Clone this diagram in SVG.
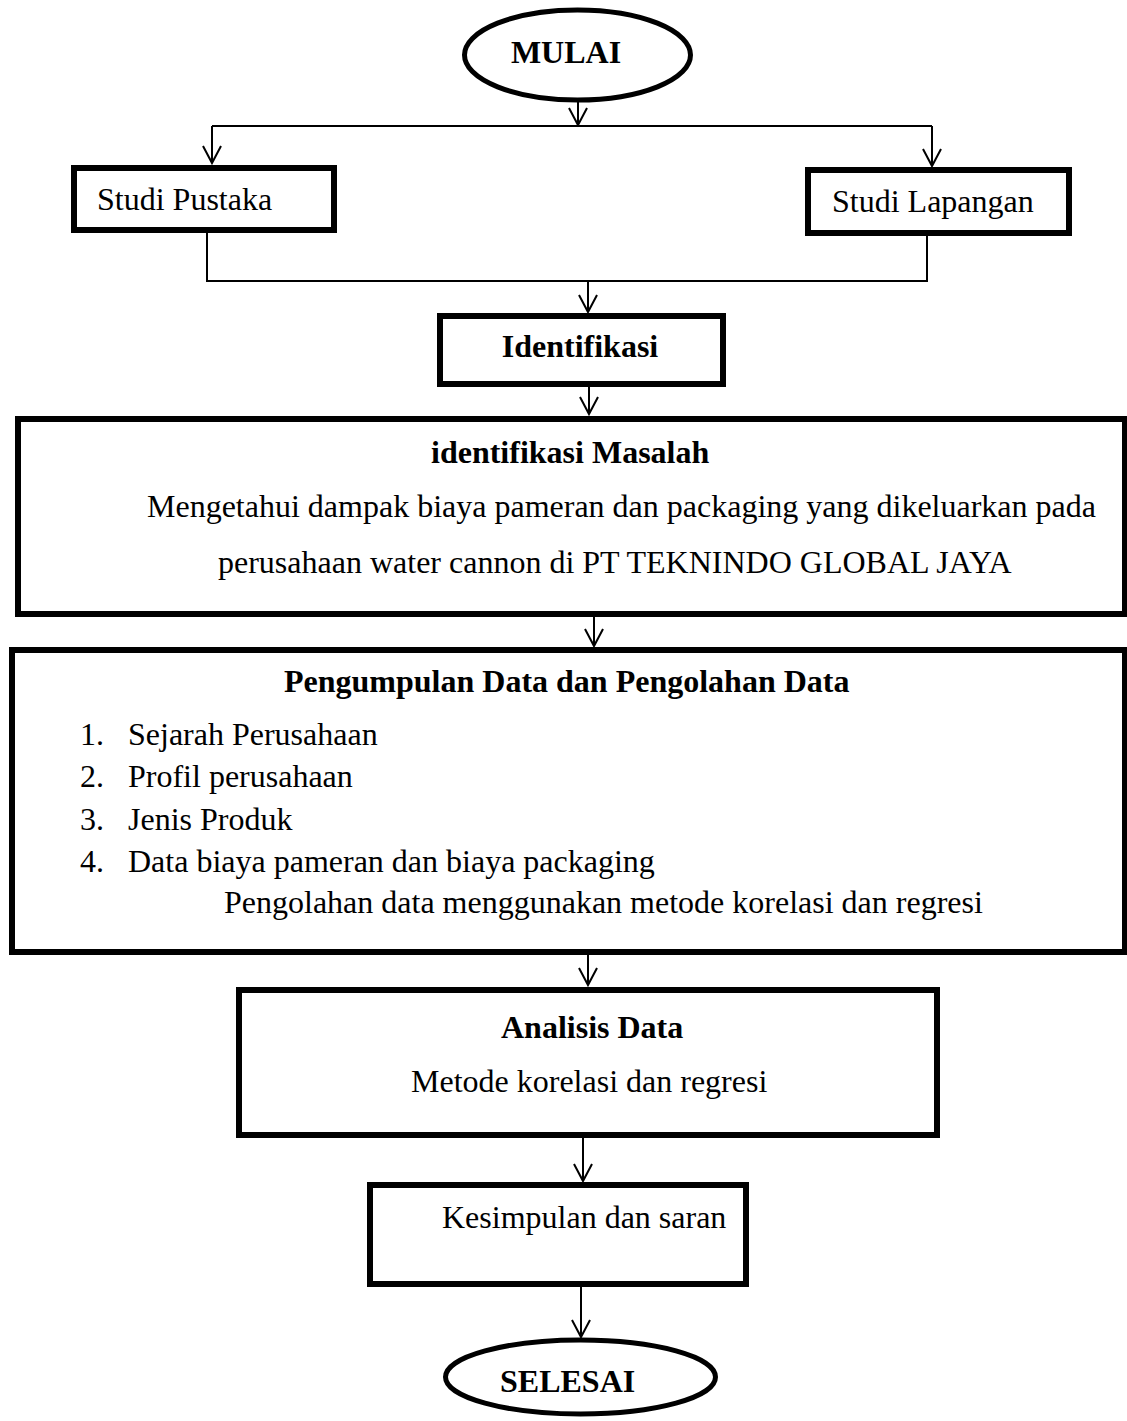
<svg xmlns="http://www.w3.org/2000/svg" width="1127" height="1421" viewBox="0 0 1127 1421">
<style>
  .box { fill: #ffffff; stroke: #000000; stroke-width: 6; }
  .oval { fill: #ffffff; stroke: #000000; stroke-width: 5; }
  .t { font-family: "Liberation Serif", "Times New Roman", serif; font-size: 32px; fill: #000000; }
  .b { font-weight: bold; }
  .con { fill: none; stroke: #000000; stroke-width: 2; }
</style>
<defs>
  <marker id="arr" markerUnits="userSpaceOnUse" markerWidth="40" markerHeight="40" viewBox="-20 -20 40 40" refX="0" refY="0" orient="auto" overflow="visible">
    <path d="M -17 -9 L 0 0 L -17 9" fill="none" stroke="#000000" stroke-width="2"/>
  </marker>
</defs>
<rect width="1127" height="1421" fill="#ffffff"/>

<g id="connectors">
  <line class="con" x1="578" y1="102" x2="578" y2="125" marker-end="url(#arr)"/>
  <line class="con" x1="212" y1="126" x2="932" y2="126"/>
  <line class="con" x1="212" y1="126" x2="212" y2="163" marker-end="url(#arr)"/>
  <line class="con" x1="932" y1="126" x2="932" y2="166" marker-end="url(#arr)"/>
  <polyline class="con" points="207,233 207,281 927,281 927,236"/>
  <line class="con" x1="588" y1="281" x2="588" y2="312" marker-end="url(#arr)"/>
  <line class="con" x1="589" y1="387" x2="589" y2="414" marker-end="url(#arr)"/>
  <line class="con" x1="594" y1="617" x2="594" y2="646" marker-end="url(#arr)"/>
  <line class="con" x1="588" y1="955" x2="588" y2="985" marker-end="url(#arr)"/>
  <line class="con" x1="583" y1="1138" x2="583" y2="1181" marker-end="url(#arr)"/>
  <line class="con" x1="581" y1="1287" x2="581" y2="1337" marker-end="url(#arr)"/>
</g>

<g id="mulai">
  <ellipse class="oval" cx="577.5" cy="55" rx="113" ry="45"/>
  <text class="t b" x="566" y="63" text-anchor="middle">MULAI</text>
</g>

<g id="studi-pustaka">
  <rect class="box" x="74" y="168" width="260" height="62"/>
  <text class="t" x="97" y="210">Studi Pustaka</text>
</g>

<g id="studi-lapangan">
  <rect class="box" x="808" y="170" width="261" height="63"/>
  <text class="t" x="832" y="212">Studi Lapangan</text>
</g>

<g id="identifikasi">
  <rect class="box" x="440" y="316" width="283" height="68"/>
  <text class="t b" x="580" y="357" text-anchor="middle">Identifikasi</text>
</g>

<g id="identifikasi-masalah">
  <rect class="box" x="18" y="419" width="1107" height="195"/>
  <text class="t b" x="431" y="463">identifikasi Masalah</text>
  <text class="t" x="147" y="517">Mengetahui dampak biaya pameran dan packaging yang dikeluarkan pada</text>
  <text class="t" x="218" y="573">perusahaan water cannon di PT TEKNINDO GLOBAL JAYA</text>
</g>

<g id="pengumpulan-data">
  <rect class="box" x="12" y="650" width="1113" height="302"/>
  <text class="t b" x="284" y="692">Pengumpulan Data dan Pengolahan Data</text>
  <text class="t" x="80" y="745">1.</text>
  <text class="t" x="128" y="745">Sejarah Perusahaan</text>
  <text class="t" x="80" y="787">2.</text>
  <text class="t" x="128" y="787">Profil perusahaan</text>
  <text class="t" x="80" y="830">3.</text>
  <text class="t" x="128" y="830">Jenis Produk</text>
  <text class="t" x="80" y="872">4.</text>
  <text class="t" x="128" y="872">Data biaya pameran dan biaya packaging</text>
  <text class="t" x="224" y="913">Pengolahan data menggunakan metode korelasi dan regresi</text>
</g>

<g id="analisis-data">
  <rect class="box" x="239" y="990" width="698" height="145"/>
  <text class="t b" x="501" y="1038">Analisis Data</text>
  <text class="t" x="411" y="1092">Metode korelasi dan regresi</text>
</g>

<g id="kesimpulan">
  <rect class="box" x="370" y="1185" width="376" height="99"/>
  <text class="t" x="442" y="1228">Kesimpulan dan saran</text>
</g>

<g id="selesai">
  <ellipse class="oval" cx="580.5" cy="1377" rx="135" ry="37"/>
  <text class="t b" x="500" y="1392">SELESAI</text>
</g>
</svg>
